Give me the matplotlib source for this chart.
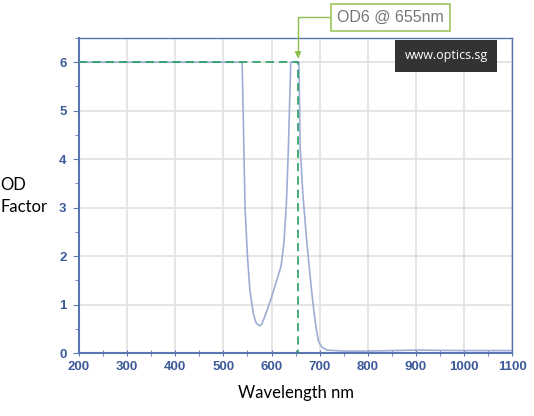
from matplotlib import pyplot as plt
from matplotlib.ticker import MultipleLocator

# OD curve
wavelength = [200, 300, 400, 500, 539, 541, 545, 550, 555, 562, 568, 575, 580, 586,
              593, 600, 611, 620, 626, 631, 635, 638, 640, 657, 659.5, 665, 673,
              680, 687, 693, 698, 705, 715, 750, 800, 900, 1000, 1100]
od = [6, 6, 6, 6, 6, 5.0, 3.0, 2.0, 1.3, 0.82, 0.62, 0.56, 0.6, 0.75,
      0.95, 1.15, 1.5, 1.8, 2.3, 3.1, 4.2, 5.3, 6, 6, 4.25, 3.3, 2.33,
      1.6, 0.95, 0.5, 0.23, 0.12, 0.06, 0.04, 0.04, 0.06, 0.05, 0.05]

marker_wl = 655
marker_od = 6
x_ticks = [200, 300, 400, 500, 600, 700, 800, 900, 1000, 1100]
y_ticks = [0, 1, 2, 3, 4, 5, 6]

axis_blue = "#5b75b3"
label_blue = "#3d5a99"
curve_blue = "#9fadd6"
guide_green = "#25a060"

fig = plt.figure(figsize=(5.34, 4.16), dpi=100)
ax = fig.add_axes([0.148, 0.1514, 0.811, 0.7573])

ax.plot(wavelength, od, color=curve_blue, linewidth=1.2, zorder=3)

# dashed guide at OD6 / 655nm
ax.plot([200, marker_wl, marker_wl], [marker_od, marker_od, 0],
        color=guide_green, linestyle=(0, (5, 3)), linewidth=1.2, zorder=4)

ax.set_xlim(200, 1100)
ax.set_ylim(0, 6.5)
ax.set_xticks(x_ticks)
ax.set_yticks(y_ticks)
ax.xaxis.set_minor_locator(MultipleLocator(50))
ax.yaxis.set_minor_locator(MultipleLocator(0.5))
ax.grid(True, which="major", color="#e3e3e3", linewidth=1.3, zorder=0)

for spine in ax.spines.values():
    spine.set_color(axis_blue)
    spine.set_linewidth(1.0)
ax.spines["left"].set_linewidth(1.5)
ax.spines["bottom"].set_linewidth(1.5)

ax.tick_params(axis="both", which="both", colors=axis_blue, labelcolor=label_blue,
               labelsize=9.5)
ax.tick_params(axis="x", which="major", direction="inout", length=5, pad=3)
ax.tick_params(axis="x", which="minor", direction="inout", length=4)
ax.tick_params(axis="y", which="major", direction="out", length=4, pad=5)
ax.tick_params(axis="y", which="minor", direction="out", length=3)
for lbl in ax.get_xticklabels() + ax.get_yticklabels():
    lbl.set_fontweight("bold")
    lbl.set_family("Liberation Sans")

fig.text(0.0, 0.529, "OD\nFactor", fontsize=12, family="Lato", color="black",
         ha="left", va="center", linespacing=1.45)
fig.text(0.555, 0.055, "Wavelength nm", fontsize=12, family="Lato", color="black",
         ha="center", va="center")

# callout above the plot
ax.annotate("OD6 @ 655nm", xy=(marker_wl, 6.08), xycoords="data",
            xytext=(0.731, 0.958), textcoords="figure fraction",
            fontsize=11.5, color="#777777", family="Liberation Sans",
            ha="center", va="center",
            bbox=dict(boxstyle="square,pad=0.4", facecolor="white",
                      edgecolor="#9cc65c", linewidth=1.2),
            arrowprops=dict(arrowstyle="-|>", color="#8cc04a", linewidth=1.0,
                            mutation_scale=9, shrinkA=0, shrinkB=0,
                            connectionstyle="angle,angleA=0,angleB=90,rad=0"),
            annotation_clip=False, zorder=6)

# watermark
fig.text(0.836, 0.866, "www.optics.sg", fontsize=9, color="white",
         family="Open Sans", ha="center", va="center",
         bbox=dict(boxstyle="square,pad=0.75", facecolor="#333333",
                   edgecolor="none"))

plt.savefig("out.png", dpi=100)
